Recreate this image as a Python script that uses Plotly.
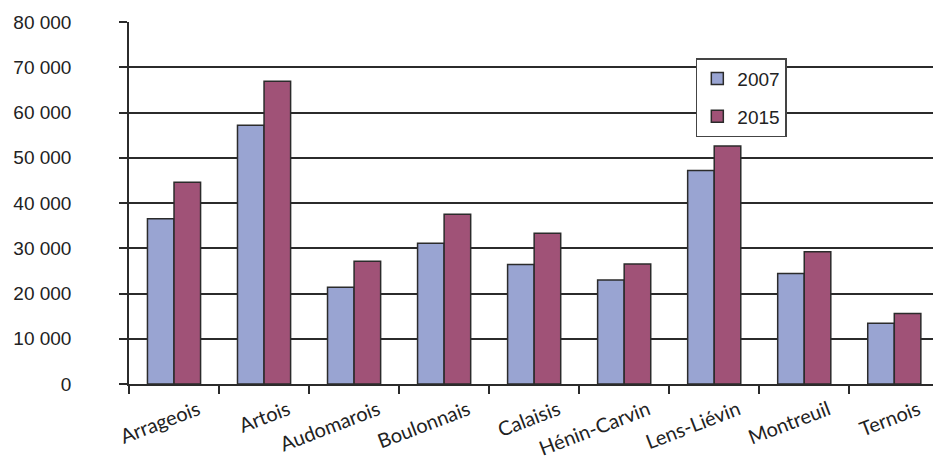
import plotly.graph_objects as go

# Arrondissements and job counts for the two years
regions = ["Arrageois", "Artois", "Audomarois", "Boulonnais", "Calaisis",
           "Hénin-Carvin", "Lens-Liévin", "Montreuil", "Ternois"]
values_2007 = [36500, 57200, 21400, 31100, 26400, 23000, 47200, 24400, 13400]
values_2015 = [44600, 66900, 27100, 37500, 33300, 26500, 52600, 29200, 15600]
y_ticks = [0, 10000, 20000, 30000, 40000, 50000, 60000, 70000, 80000]

fig = go.Figure()
fig.add_trace(go.Bar(
    x=regions, y=values_2007, name="2007", legendgroup="a",
    marker=dict(color="#99A4D2", line=dict(color="#2b2b2b", width=1.5)),
))
fig.add_trace(go.Bar(
    x=regions, y=values_2015, name="2015", legendgroup="b",
    marker=dict(color="#A05277", line=dict(color="#2b2b2b", width=1.5)),
))

fig.update_layout(
    width=933, height=462,
    margin=dict(l=129, r=0, t=22, b=78, autoexpand=False),
    paper_bgcolor="white", plot_bgcolor="white",
    barmode="group", bargap=0.41, bargroupgap=0,
    separators=", ",
    font=dict(family="Liberation Sans, Arial, sans-serif", color="#222"),
    showlegend=True,
    legend=dict(
        x=0.705, y=0.9, xanchor="left", yanchor="top",
        bgcolor="white", bordercolor="#444", borderwidth=1.5,
        font=dict(size=19, family="Liberation Sans, Arial, sans-serif"),
        traceorder="grouped", tracegroupgap=10,
        itemwidth=30,
    ),
)

fig.update_yaxes(
    range=[0, 80000], tickvals=y_ticks, tickformat=",d",
    showgrid=True, gridcolor="#2b2b2b", gridwidth=1.5,
    showline=True, linecolor="#2b2b2b", linewidth=1.5,
    ticks="outside", ticklen=8, tickcolor="#2b2b2b", tickwidth=1.5,
    tickfont=dict(size=19, family="Liberation Sans, Arial, sans-serif"),
    ticklabelstandoff=44,
    zeroline=False, automargin=False,
)
fig.update_xaxes(
    range=[-0.5, 8.43],
    showline=True, linecolor="#2b2b2b", linewidth=1.5,
    ticks="outside", ticklen=8, tickcolor="#2b2b2b", tickwidth=1.5,
    tickson="boundaries",
    tickangle=-21,
    ticklabelshift=24,
    ticklabelstandoff=5,
    tickfont=dict(size=20, family="Lato, Noto Sans, sans-serif", color="#222"),
    automargin=False,
)

fig.write_html("out.html")
